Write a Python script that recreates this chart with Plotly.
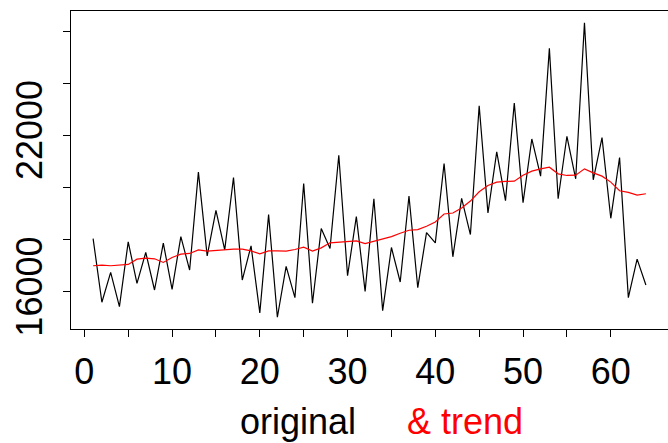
import plotly.graph_objects as go

t = list(range(1, 65))
original = [18048, 15606, 16750, 15440, 17921, 16331, 17514, 16076, 17870, 16102,
            18124, 16840, 20592, 17386, 19129, 17615, 20388, 16458, 17768, 15199,
            18964, 15033, 16979, 15784, 20159, 15568, 18430, 17666, 21241, 16623,
            18887, 16025, 19574, 15288, 17704, 16382, 19676, 16165, 18277, 17883,
            20923, 17348, 19587, 18201, 23136, 19027, 21368, 19498, 23238, 19422,
            21864, 20439, 25336, 19574, 21966, 20338, 26316, 20299, 21915, 18824,
            21152, 15784, 17259, 16267]
trend = [17005, 17030, 17005, 17018, 17056, 17259, 17297, 17272, 17132, 17323,
         17450, 17476, 17615, 17565, 17590, 17628, 17641, 17641, 17577, 17463,
         17577, 17577, 17565, 17628, 17717, 17565, 17692, 17883, 17908, 17908,
         17959, 17857, 17946, 18022, 18124, 18251, 18366, 18391, 18519, 18684,
         18989, 19027, 19218, 19485, 19841, 20083, 20210, 20236, 20248, 20477,
         20630, 20719, 20783, 20528, 20465, 20477, 20719, 20566, 20439, 20210,
         19880, 19816, 19714, 19765]

x_ticks = list(range(0, 61, 5))
x_labels = [str(v) if v % 10 == 0 else "" for v in x_ticks]
y_ticks = list(range(16000, 26001, 2000))
y_labels = ["16000", "", "", "22000", "", ""]

FONT = "Liberation Sans, Arial, sans-serif"

fig = go.Figure()
fig.add_trace(go.Scatter(x=t, y=original, mode="lines",
                         line=dict(color="black", width=1.2), showlegend=False))
fig.add_trace(go.Scatter(x=t, y=trend, mode="lines",
                         line=dict(color="red", width=1.2), showlegend=False))

fig.update_layout(
    width=668, height=443,
    margin=dict(l=71, r=0, t=11, b=114),
    paper_bgcolor="white", plot_bgcolor="white",
    font=dict(family=FONT, size=37, color="black"),
    xaxis=dict(range=[-1.52, 66.52], tickvals=x_ticks, ticktext=x_labels,
               showgrid=False, zeroline=False, showline=True, mirror=True,
               linecolor="black", linewidth=1, ticks="outside", ticklen=7,
               tickcolor="black", tickfont=dict(size=36), ticklabelstandoff=4),
    yaxis=dict(range=[14582, 26767], tickvals=y_ticks, ticktext=y_labels,
               showgrid=False, zeroline=False, showline=True, mirror=False,
               linecolor="black", linewidth=1, ticks="outside", ticklen=7,
               tickcolor="black", tickangle=-90, tickfont=dict(size=36),
               ticklabelstandoff=7),
    annotations=[
        dict(text="original", xref="x", yref="paper", x=24.3, y=-0.29,
             xanchor="center", yanchor="middle", showarrow=False,
             font=dict(size=36, color="black")),
        dict(text="& trend", xref="x", yref="paper", x=43.4, y=-0.29,
             xanchor="center", yanchor="middle", showarrow=False,
             font=dict(size=36, color="red")),
    ],
)

fig.write_html("out.html")
